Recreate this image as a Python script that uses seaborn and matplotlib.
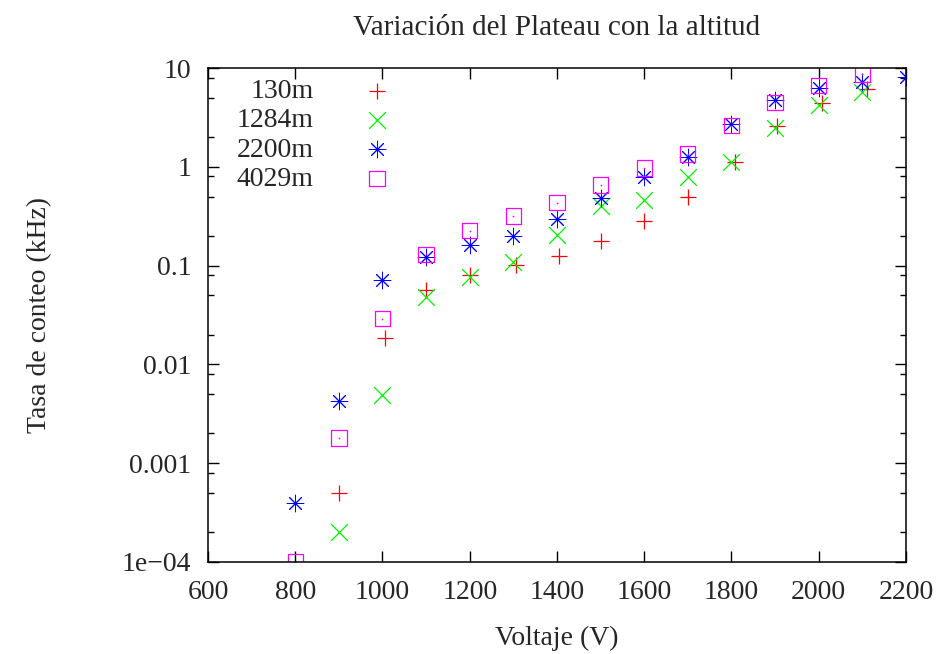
import numpy as np
import pandas as pd
import matplotlib
matplotlib.use("Agg")
import matplotlib.pyplot as plt
import matplotlib.ticker as mticker
import seaborn as sns

# data (voltage in V, count rate in kHz)
v_130 = [900, 1005, 1100, 1200, 1305, 1405, 1500, 1600, 1700, 1808, 1905, 2008, 2110]
r_130 = [5.0e-4, 0.0185, 0.057, 0.080, 0.101, 0.125, 0.178, 0.285, 0.50, 1.11, 2.6, 4.4, 6.1]

v_1284 = [900, 1000, 1100, 1200, 1300, 1400, 1500, 1600, 1700, 1800, 1900, 2000, 2100]
r_1284 = [2.0e-4, 0.0049, 0.0485, 0.077, 0.11, 0.204, 0.40, 0.46, 0.78, 1.11, 2.45, 4.2, 5.7]

v_2200 = [800, 900, 1000, 1100, 1200, 1300, 1400, 1500, 1600, 1700, 1800, 1900, 2000, 2100, 2200]
r_2200 = [4.0e-4, 0.0043, 0.071, 0.121, 0.162, 0.20, 0.294, 0.48, 0.78, 1.27, 2.7, 4.8, 6.3, 7.3, 8.2]

v_4029 = [800, 900, 1000, 1100, 1200, 1300, 1400, 1500, 1600, 1700, 1800, 1900, 2000, 2100]
r_4029 = [1.0e-4, 0.0018, 0.029, 0.13, 0.225, 0.318, 0.433, 0.655, 0.97, 1.35, 2.6, 4.45, 6.6, 8.7]

series_names = ["130m", "1284m", "2200m", "4029m"]
y_tick_vals = [1e-4, 1e-3, 1e-2, 1e-1, 1, 10]
y_tick_labels = ["1e\u221204", "0.001", "0.01", "0.1", "1", "10"]

sns.set_style("ticks")
plt.rcParams["font.family"] = ["Liberation Serif", "DejaVu Serif"]

FS = 20
fig = plt.figure(figsize=(9.45, 6.54), dpi=100)
ax = fig.add_axes([0.2201, 0.1407, 0.7386, 0.7553])

ms = 12
lw = 0.9
sns.scatterplot(x=v_130, y=r_130, ax=ax, marker="+", s=ms**2, color="#ff0000",
                linewidth=lw, label=series_names[0])
sns.scatterplot(x=v_1284, y=r_1284, ax=ax, marker="x", s=ms**2, color="#00f000",
                linewidth=lw, label=series_names[1])
sns.scatterplot(x=v_2200, y=r_2200, ax=ax, marker=(8, 2, 0), s=ms**2, color="#0000ff",
                linewidth=0.7, label=series_names[2])
sns.scatterplot(x=v_4029, y=r_4029, ax=ax, marker="s", s=(ms - 1)**2, facecolors="none",
                edgecolor="#ff00ff", linewidth=lw, label=series_names[3])
# little dot in the centre of the squares (gnuplot style)
sns.scatterplot(x=v_4029, y=r_4029, ax=ax, marker="o", s=1.5, color="#ff00ff",
                linewidth=0, legend=False)

ax.set_yscale("log")
ax.set_xlim(600, 2200)
ax.set_ylim(1e-4, 10)
ax.set_xticks(np.arange(600, 2201, 200))
ax.set_yticks(y_tick_vals)
ax.set_yticklabels(y_tick_labels)
ax.yaxis.set_minor_locator(mticker.LogLocator(base=10, subs=[2, 5, 8], numticks=20))
ax.yaxis.set_minor_formatter(mticker.NullFormatter())
ax.xaxis.set_minor_locator(mticker.NullLocator())

ax.tick_params(axis="both", which="both", direction="in", top=True, right=True,
               labelsize=FS, color="black")
ax.tick_params(which="major", length=8, width=1)
ax.tick_params(which="minor", length=4, width=1)
ax.tick_params(axis="x", pad=13)
ax.tick_params(axis="y", pad=12)
for sp in ax.spines.values():
    sp.set_linewidth(1.1)
    sp.set_color("black")

ax.set_title("Variaci\u00f3n del Plateau con la altitud", fontsize=21, pad=24)
ax.set_xlabel("Voltaje (V)", fontsize=FS, labelpad=15)
ax.set_ylabel("Tasa de conteo (kHz)", fontsize=FS, labelpad=50)

# gnuplot-like key: labels right-aligned, marker on the right
leg = ax.legend(loc="upper right", bbox_to_anchor=(0.282, 0.979), frameon=False,
                markerfirst=False, fontsize=FS, handlelength=2.0,
                handletextpad=1.27, labelspacing=0.14, borderaxespad=0.0,
                borderpad=0.0)

fig.savefig("out.png", dpi=100)
